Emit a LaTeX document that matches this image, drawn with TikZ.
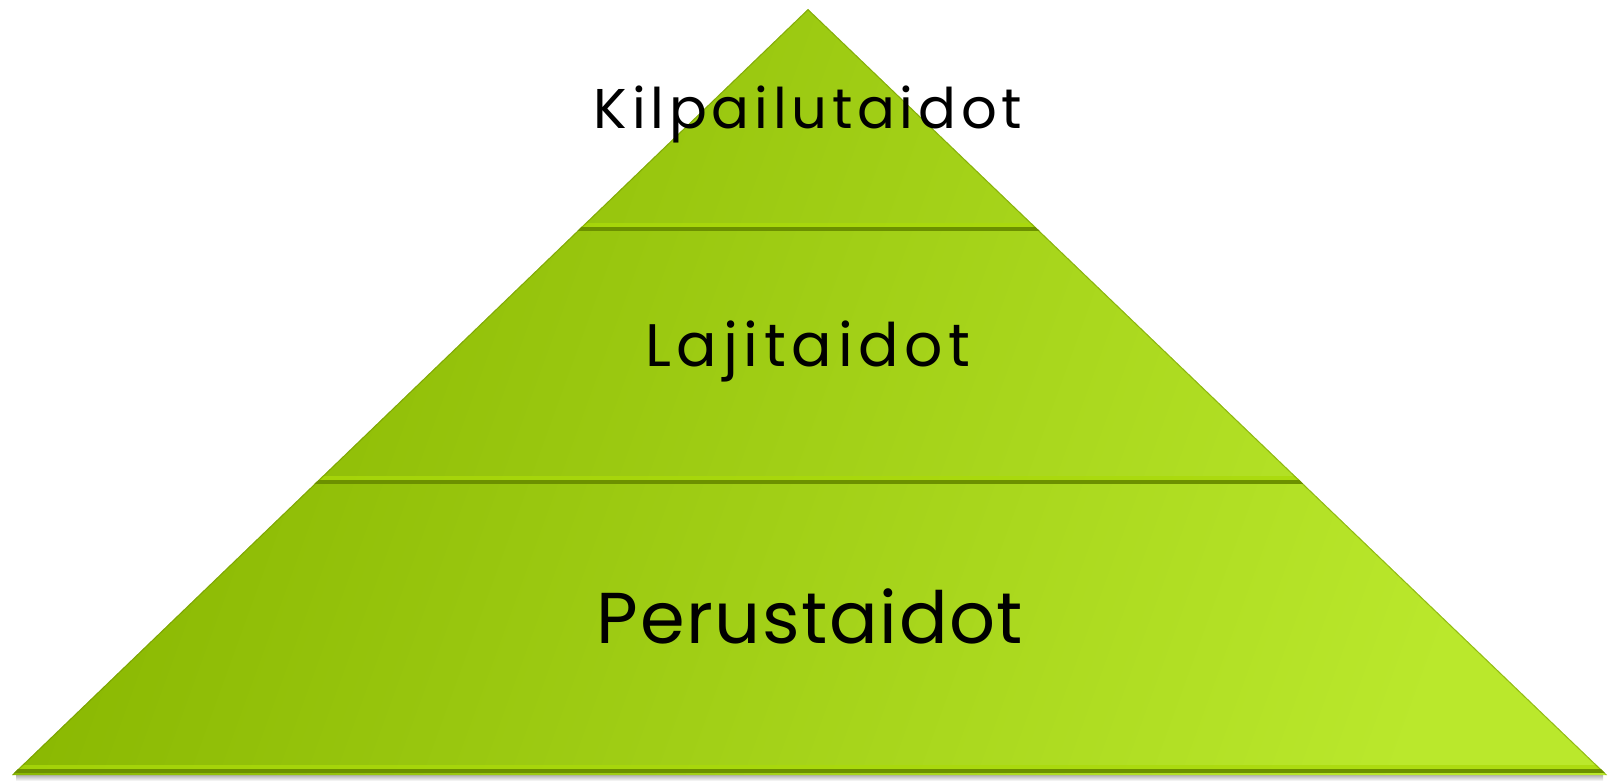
\documentclass[tikz,border=0pt]{standalone}
\usepackage{fontspec}
\setmainfont{Poppins}
\usepackage{xcolor}
\usepackage{tikz}
\usetikzlibrary{calc}
\usetikzlibrary{positioning}
\definecolor{pyrleft}{HTML}{88B600}
\definecolor{pyrright}{HTML}{BAE82C}
\definecolor{seamdark}{HTML}{6C9000}
\definecolor{seamlight}{HTML}{AADA0A}
\tikzset{
layer label/.style = { anchor = base, text = black, inner sep = 0pt },
seam dark/.style = { draw = seamdark, line width = 1.6pt },
seam light/.style = { draw = seamlight, line width = 2.4pt, opacity = 0.8 },
}

\begin{document}
\begin{tikzpicture}[x=0.5pt, y=-0.5pt]
      \useasboundingbox (0,0) rectangle (1615,781);
      \coordinate (apex) at (808,9);
      \coordinate (bl) at (12,775);
      \coordinate (br) at (1607,775);
      % soft shadow under the base
      \shade[top color=black!40, bottom color=white] (16,773) rectangle (1603,781);
      \begin{scope}
        \clip (apex) -- (bl) -- (br) -- cycle;
        \shade[left color=pyrleft, right color=pyrright, shading angle=70] (12,9) rectangle (1607,775);
        % bevelled seams between the layers and at the base
        \foreach \y in {229, 482, 771} {
          \draw[seam light] (0,\y-4) -- (1615,\y-4);
          \draw[seam dark] (0,\y) -- (1615,\y);
        }
        \draw[seamdark, opacity=0.5, line width=1pt] (bl) -- (apex) -- (br);
      \end{scope}
      \node[layer label, font=\fontsize{28}{32}\selectfont\addfontfeatures{LetterSpace=8.5}] (kilpailu) at (808,128) {Kilpailutaidot};
      \node[layer label, font=\fontsize{30}{34}\selectfont\addfontfeatures{LetterSpace=9.5}] (laji) at (808,366) {Lajitaidot};
      \node[layer label, font=\fontsize{36}{40}\selectfont\addfontfeatures{LetterSpace=2.2}] (perus) at (810,643) {Perustaidot};
\end{tikzpicture}
\end{document}
